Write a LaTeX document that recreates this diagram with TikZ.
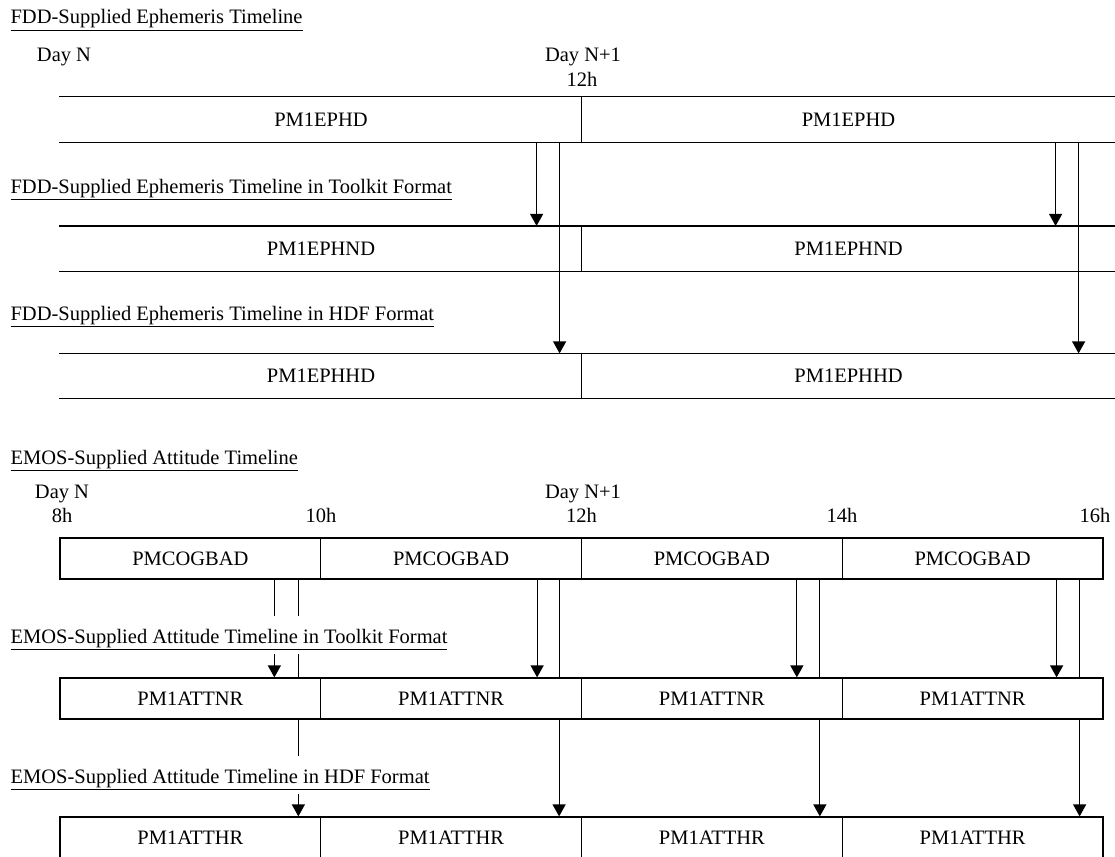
\documentclass[tikz,border=0pt]{standalone}
\usepackage{fontspec}
\setmainfont{Liberation Serif}
\usetikzlibrary{arrows.meta}

\begin{document}
\begin{tikzpicture}[>={Triangle[width=13pt,length=12pt]}, x=1pt, y=-1pt, color=black, line width=1.2pt,
		every node/.style={font=\fontsize{20.5}{24}\selectfont, inner sep=0pt},
		strip/.style={minimum width=#1, minimum height=44pt},
		slot/.style={draw, minimum width=260.75pt, minimum height=41pt},
		heading/.style={anchor=base west, fill=white, text height=22pt, text depth=6pt, inner ysep=5pt}]
		\useasboundingbox (0,0) rectangle (1115,856);
		% FDD ephemeris
		\node[heading] (fdd) at (10,24) {\underline{FDD-Supplied Ephemeris Timeline}};
		\node[anchor=base] (fddn) at (64,62) {Day N};
		\node[anchor=base] (fddn1) at (583,62) {Day N+1};
		\node[anchor=base] (fdd12) at (582,87) {12h};
		\node[strip=522pt] (ephd1) at (321,119.5) {PM1EPHD};
		\node[strip=533pt] (ephd2) at (848.5,119.5) {PM1EPHD};
		\node[heading] (fddtk) at (10,193) {\underline{FDD-Supplied Ephemeris Timeline in Toolkit Format}};
		\node[strip=522pt] (ephnd1) at (321,248.5) {PM1EPHND};
		\node[strip=533pt] (ephnd2) at (848.5,248.5) {PM1EPHND};
		\node[heading] (fddhdf) at (10,320) {\underline{FDD-Supplied Ephemeris Timeline in HDF Format}};
		\node[strip=522pt] (ephhd1) at (321,376) {PM1EPHHD};
		\node[strip=533pt] (ephhd2) at (848.5,376) {PM1EPHHD};
		\draw (ephd1.north west) -- (ephd1.north east) (ephd1.south west) -- (ephd1.south east);
		\draw (ephd2.north east) -- (ephd2.north west) -- (ephd2.south west) -- (ephd2.south east);
		\draw (ephnd1.north west) -- (ephnd1.north east) (ephnd1.south west) -- (ephnd1.south east);
		\draw (ephnd2.north east) -- (ephnd2.north west) -- (ephnd2.south west) -- (ephnd2.south east);
		\draw (ephhd1.north west) -- (ephhd1.north east) (ephhd1.south west) -- (ephhd1.south east);
		\draw (ephhd2.north east) -- (ephhd2.north west) -- (ephhd2.south west) -- (ephhd2.south east);
		\draw[->] ([xshift=-46pt]ephd1.south east) -- ([xshift=-46pt]ephnd1.north east);
		\draw[->] ([xshift=-23pt]ephd1.south east) -- ([xshift=-23pt]ephhd1.north east);
		\draw[->] ([xshift=-60pt]ephd2.south east) -- ([xshift=-60pt]ephnd2.north east);
		\draw[->] ([xshift=-37pt]ephd2.south east) -- ([xshift=-37pt]ephhd2.north east);
		% EMOS attitude
		\node[slot] (bad1) at (190.375,558.5) {PMCOGBAD};
		\node[slot] (bad2) at (451.125,558.5) {PMCOGBAD};
		\node[slot] (bad3) at (711.875,558.5) {PMCOGBAD};
		\node[slot] (bad4) at (972.625,558.5) {PMCOGBAD};
		\node[slot] (attnr1) at (190.375,698.5) {PM1ATTNR};
		\node[slot] (attnr2) at (451.125,698.5) {PM1ATTNR};
		\node[slot] (attnr3) at (711.875,698.5) {PM1ATTNR};
		\node[slot] (attnr4) at (972.625,698.5) {PM1ATTNR};
		\node[slot] (atthr1) at (190.375,837.5) {PM1ATTHR};
		\node[slot] (atthr2) at (451.125,837.5) {PM1ATTHR};
		\node[slot] (atthr3) at (711.875,837.5) {PM1ATTHR};
		\node[slot] (atthr4) at (972.625,837.5) {PM1ATTHR};
		\draw[->] ([xshift=-47pt]bad1.south east) -- ([xshift=-47pt]attnr1.north east);
		\draw ([xshift=-23pt]bad1.south east) -- ([xshift=-23pt]attnr1.north east);
		\draw[->] ([xshift=-23pt]attnr1.south east) -- ([xshift=-23pt]atthr1.north east);
		\draw[->] ([xshift=-45pt]bad2.south east) -- ([xshift=-45pt]attnr2.north east);
		\draw ([xshift=-23pt]bad2.south east) -- ([xshift=-23pt]attnr2.north east);
		\draw[->] ([xshift=-23pt]attnr2.south east) -- ([xshift=-23pt]atthr2.north east);
		\draw[->] ([xshift=-46pt]bad3.south east) -- ([xshift=-46pt]attnr3.north east);
		\draw ([xshift=-23pt]bad3.south east) -- ([xshift=-23pt]attnr3.north east);
		\draw[->] ([xshift=-23pt]attnr3.south east) -- ([xshift=-23pt]atthr3.north east);
		\draw[->] ([xshift=-47pt]bad4.south east) -- ([xshift=-47pt]attnr4.north east);
		\draw ([xshift=-24pt]bad4.south east) -- ([xshift=-24pt]attnr4.north east);
		\draw[->] ([xshift=-24pt]attnr4.south east) -- ([xshift=-24pt]atthr4.north east);
		\node[heading] (emos) at (10,464) {\underline{EMOS-Supplied Attitude Timeline}};
		\node[heading] (emostk) at (10,643) {\underline{EMOS-Supplied Attitude Timeline in Toolkit Format}};
		\node[heading] (emoshdf) at (10,783) {\underline{EMOS-Supplied Attitude Timeline in HDF Format}};
		\node[anchor=base] (emosn) at (62,498) {Day N};
		\node[anchor=base] (emos8) at (62,522) {8h};
		\node[anchor=base] (emos10) at (321,522) {10h};
		\node[anchor=base] (emosn1) at (583,498) {Day N+1};
		\node[anchor=base] (emos12) at (581.5,522) {12h};
		\node[anchor=base] (emos14) at (842,522) {14h};
		\node[anchor=base east] (emos16) at (1111,522) {16h};
\end{tikzpicture}
\end{document}
